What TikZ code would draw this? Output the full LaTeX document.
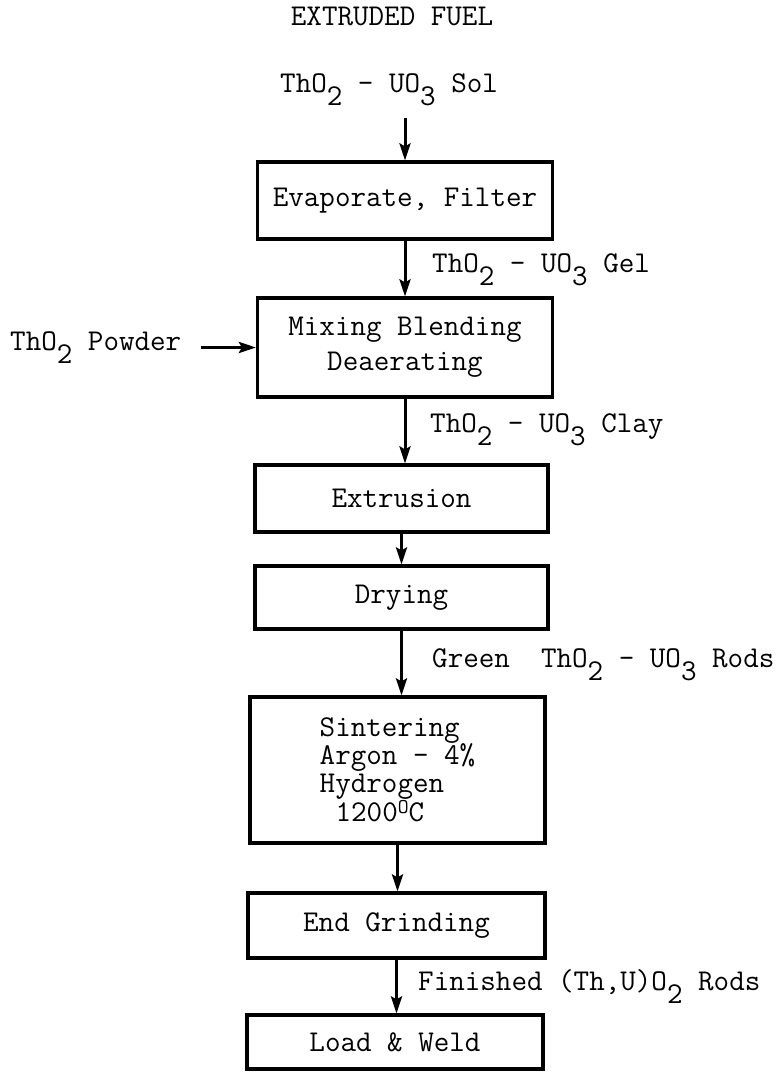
\documentclass[tikz,border=0pt]{standalone}
\usepackage{fontspec}
\usetikzlibrary{arrows.meta}

\newcommand{\lowsub}[1]{\raisebox{-0.45em}{#1}}
\newcommand{\degsign}{\raisebox{0.28em}{\fontsize{21}{21}\selectfont O}}

\tikzset{
  procbox/.style={draw, line width=3.2pt, minimum width=295pt, inner sep=0pt, align=center},
  flowlabel/.style={inner sep=0pt, anchor=base west},
  flow/.style={line width=3pt, -{Stealth[length=17pt,width=11pt,inset=3pt]}}
}

\begin{document}
\begin{tikzpicture}[x=1pt,y=-1pt, every node/.style={font=\ttfamily\fontsize{30.2}{28}\selectfont}]
\useasboundingbox (0,0) rectangle (783,1072);

% Title and feed
\node[inner sep=0pt, anchor=base] (title) at (392,25) {EXTRUDED FUEL};
\node[flowlabel] (sol) at (280,92) {ThO\lowsub{2} - UO\lowsub{3} Sol};

% Process steps
\node[procbox, minimum height=77pt] (evap) at (405,200.5) {Evaporate, Filter};
\node[procbox, minimum height=99pt] (mix) at (405,347.5) {Mixing Blending\\[7pt]Deaerating};
\node[procbox, minimum width=293pt, minimum height=67pt] (extr) at (401.5,498.5) {Extrusion};
\node[procbox, minimum width=293pt, minimum height=63pt] (dry) at (401.5,597.5) {Drying};
\node[procbox, minimum height=146pt, align=left] (sint) at (397.5,770)
  {Sintering\\Argon - 4\%\\Hydrogen\\\hspace*{0.525em}1200\degsign C};
\node[procbox, minimum width=297pt, minimum height=65pt] (grind) at (396.5,925.5) {End Grinding};
\node[procbox, minimum width=296pt, minimum height=54pt] (load) at (395,1042) {Load \& Weld};

% Stream labels
\node[flowlabel] (gel) at (432,272) {ThO\lowsub{2} - UO\lowsub{3} Gel};
\node[flowlabel] (powder) at (10,350) {ThO\lowsub{2} Powder};
\node[flowlabel] (clay) at (430,432) {ThO\lowsub{2} - UO\lowsub{3} Clay};
\node[flowlabel] (green) at (432,667) {Green\ \ ThO\lowsub{2} - UO\lowsub{3} Rods};
\node[flowlabel] (fin) at (418,990) {Finished (Th,U)O\lowsub{2} Rods};

% Draw flow arrows
\draw[flow] ([yshift=-12pt]sol.south -| evap.north) -- (evap.north);
\draw[flow] (evap.south) -- (evap.south |- mix.north);
\draw[flow] ([xshift=20pt]powder.east |- mix.west) -- (mix.west);
\draw[flow] (mix.south) -- (mix.south |- extr.north);
\draw[flow] (extr.south) -- (extr.south |- dry.north);
\draw[flow] (dry.south) -- (dry.south |- sint.north);
\draw[flow] (sint.south) -- (sint.south |- grind.north);
\draw[flow] (grind.south) -- (grind.south |- load.north);

\end{tikzpicture}
\end{document}
